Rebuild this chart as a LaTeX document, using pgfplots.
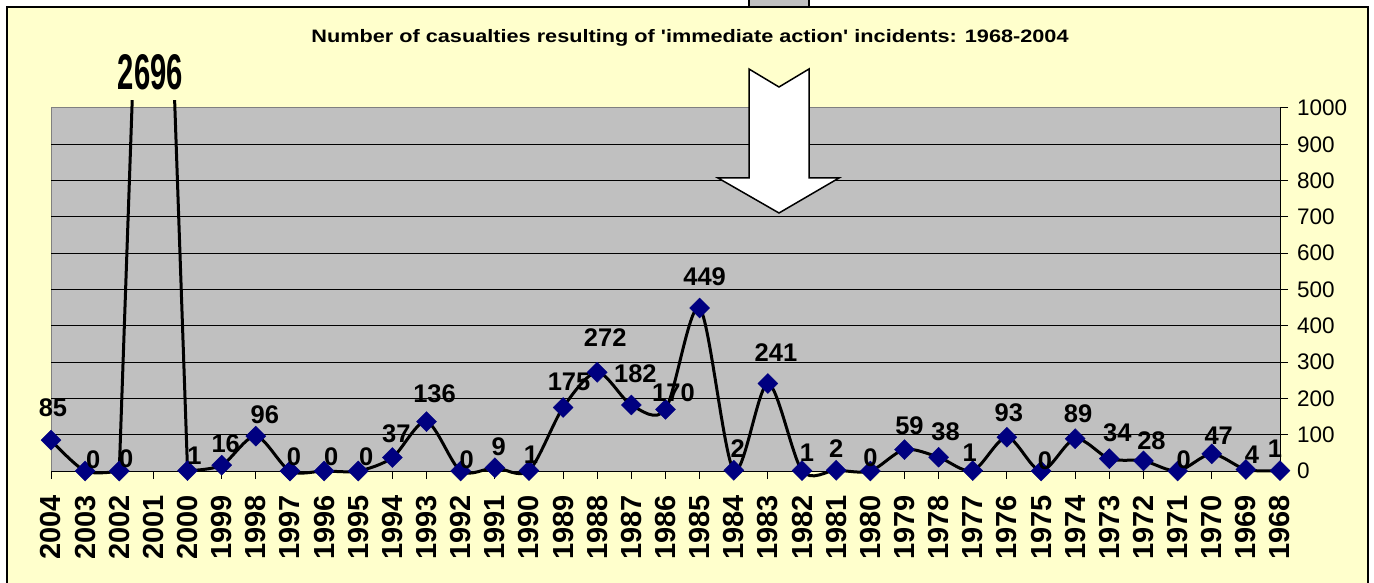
\documentclass[border=0pt]{standalone}
\usepackage{pgfplots}
\pgfplotsset{compat=1.18}
\usepackage{pgfplotstable}
\usepackage{graphicx}
\usepackage{fontspec}
\setmainfont{Liberation Sans}
\definecolor{chartyellow}{HTML}{FFFFCC}
\definecolor{plotgray}{HTML}{C0C0C0}
\definecolor{bordergray}{HTML}{808080}
\definecolor{navyblue}{HTML}{000080}

% markers and their data labels (dx, dy = label offset in px)
\pgfplotstableread{
x y label dx dy
0 85 85 2 32
1 0 0 8 11
2 0 0 7 12
4 1 1 7 15
5 16 16 4 21
6 96 96 9 21
7 0 0 4 14
8 0 0 7 14
9 0 0 8 14
10 37 37 4 24
11 136 136 8 28
12 0 0 6 11
13 9 9 4 21
14 1 1 2 16
15 175 175 6 26
16 272 272 8 35
17 182 182 4 31
18 170 170 8 17
19 449 449 5 31
20 2 2 4 22
21 241 241 8 31
22 1 1 5 18
23 2 2 0 22
24 0 0 0 13
25 59 59 5 24
26 38 38 7 25
27 1 1 -3 18
28 93 93 2 25
29 0 0 4 10
30 89 89 3 25
31 34 34 8 26
32 28 28 8 20
33 0 0 6 11
34 47 47 7 18
35 4 4 6 15
36 1 1 -5 22
}\markers

\pgfplotstableread{
x y
0 85
1 0
2 0
}\lineA

\pgfplotstableread{
x y
2 0
3 2696
4 1
}\lineB

\pgfplotstableread{
x y
4 1
5 16
6 96
7 0
8 0
9 0
10 37
11 136
12 0
13 9
14 1
15 175
16 272
17 182
18 170
19 449
20 2
21 241
22 1
23 2
24 0
25 59
26 38
27 1
28 93
29 0
30 89
31 34
32 28
33 0
34 47
35 4
36 1
}\lineC

\begin{document}
\begin{tikzpicture}[x=1pt,y=1pt]
\path[use as bounding box] (0,0) rectangle (1374,582);
\clip (0,0) rectangle (1374,582);
\fill[white] (0,0) rectangle (1374,582);
\filldraw[fill=chartyellow, draw=black, line width=1.5pt] (7,-10) rectangle (1368,575);
\filldraw[fill=plotgray, draw=black, line width=1.5pt] (749,575) rectangle (809,595);

% background, grid, ticks
\begin{axis}[
  x=34.13889pt, y=0.363pt,
  at={(51pt,111pt)}, anchor=south west,
  xmin=0, xmax=36, ymin=0, ymax=1000,
  axis background/.style={fill=plotgray, draw=bordergray, line width=1pt},
  axis x line=bottom, axis y line=right,
  axis line style={-, black, line width=1pt},
  xtick={0,...,36},
  xticklabels={2004,2003,2002,2001,2000,1999,1998,1997,1996,1995,1994,1993,1992,1991,1990,1989,1988,1987,1986,1985,1984,1983,1982,1981,1980,1979,1978,1977,1976,1975,1974,1973,1972,1971,1970,1969,1968},
  ytick={0,100,...,1000},
  minor ytick={100,200,...,900},
  yminorgrids, minor grid style={black, line width=0.8pt},
  minor tick length=0pt,
  tick align=outside, major tick length=8pt,
  tick style={black, line width=1pt},
  /pgf/number format/assume math mode=true,
  /pgf/number format/1000 sep={},
  xticklabel shift=16pt,
  yticklabel shift=9pt,
  xticklabel style={rotate=90, anchor=east, inner sep=0pt, font=\bfseries\fontsize{29}{30}\selectfont},
  yticklabel style={anchor=west, inner sep=0pt, font=\fontsize{22.5}{23}\selectfont},
]
\addplot[draw=none] coordinates {(0,0)};
\end{axis}

% the line, clipped a little above the plot area
\begin{axis}[
  x=34.13889pt, y=0.363pt,
  at={(51pt,89.22pt)}, anchor=south west,
  xmin=0, xmax=36, ymin=-60, ymax=1022,
  hide axis,
]
\addplot[black, line width=3pt, smooth, line join=round] table[x=x,y=y] {\lineA};
\addplot[black, line width=3pt, sharp plot, line join=round] table[x=x,y=y] {\lineB};
\addplot[black, line width=3pt, smooth, line join=round] table[x=x,y=y] {\lineC};
\end{axis}

% markers and data labels
\begin{axis}[
  x=34.13889pt, y=0.363pt,
  at={(51pt,111pt)}, anchor=south west,
  xmin=0, xmax=36, ymin=0, ymax=1000,
  hide axis, clip=false,
]
\addplot[only marks, mark=square*, mark size=7.07pt,
  mark options={rotate=45, fill=navyblue, draw=navyblue},
  point meta=explicit symbolic,
  visualization depends on={\thisrow{dx} \as \dx},
  visualization depends on={\thisrow{dy} \as \dy},
  nodes near coords,
  nodes near coords align={center},
  every node near coord/.append style={anchor=center, inner sep=0pt, xshift=\dx pt, yshift=\dy pt, font=\bfseries\fontsize{25.5}{26}\selectfont, text=black},
] table[x=x,y=y,meta=label] {\markers};
\end{axis}

\node[anchor=base, inner sep=0pt, font=\bfseries\fontsize{18}{20}\selectfont] at (690,539) {\scalebox{1.205}[1]{Number of casualties resulting of \textquotesingle immediate action\textquotesingle\ incidents: 1968-2004}};
\node[inner sep=0pt] at (150.5,510) {\resizebox{65pt}{35pt}{\bfseries 2696}};
\filldraw[fill=white, draw=black, line width=1.5pt, line join=miter]
  (749,513) -- (779,495) -- (809,513) -- (809,404) -- (839,404) -- (779,369) -- (718,404) -- (749,404) -- cycle;
\end{tikzpicture}
\end{document}
